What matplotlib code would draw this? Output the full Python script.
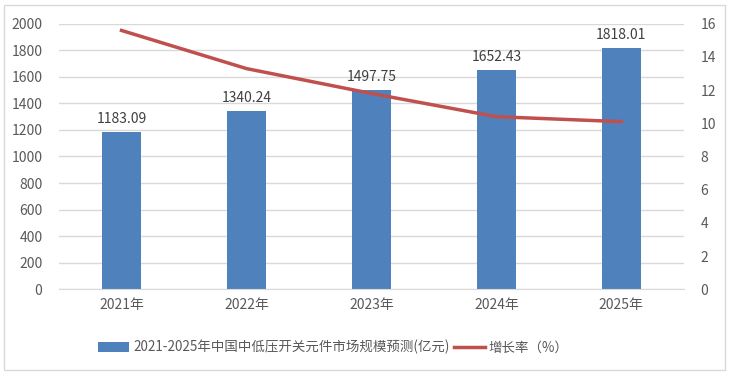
import matplotlib.pyplot as plt
import numpy as np
from matplotlib.patches import Rectangle

plt.rcParams['font.family'] = ['Noto Sans CJK SC', 'DejaVu Sans']

years = ['2021年', '2022年', '2023年', '2024年', '2025年']
market_size = [1183.09, 1340.24, 1497.75, 1652.43, 1818.01]
growth_rate = [15.6, 13.3, 11.8, 10.4, 10.1]

bar_color = '#4F81BD'
line_color = '#C0504D'
text_color = '#595959'

fig = plt.figure(figsize=(7.29, 3.78), dpi=100)
ax = fig.add_axes([0.081, 0.235, 0.857, 0.702])
ax2 = ax.twinx()

x = np.arange(len(years))
bars = ax.bar(x, market_size, width=0.31, color=bar_color, zorder=2,
              label='2021-2025年中国中低压开关元件市场规模预测(亿元)')
for xi, v in zip(x, market_size):
    ax.text(xi, v + 45, f'{v:.2f}', ha='center', va='bottom', fontsize=10, color='#404040')

line, = ax2.plot(x, growth_rate, color=line_color, linewidth=2.5, zorder=3, label='增长率（%）')

ax.set_xlim(-0.5, 4.5)
ax.set_ylim(0, 2000)
ax.set_yticks(np.arange(0, 2001, 200))
ax2.set_ylim(0, 16)
ax2.set_yticks(np.arange(0, 17, 2))
ax.set_xticks(x)
ax.set_xticklabels(years)
ax.grid(axis='y', color='#D9D9D9', linewidth=1, zorder=0)
ax.set_axisbelow(True)

for a in (ax, ax2):
    for s in a.spines.values():
        s.set_visible(False)
    a.tick_params(length=0, labelsize=10, colors=text_color)
ax.spines['bottom'].set_visible(True)
ax.spines['bottom'].set_color('#D9D9D9')
ax.tick_params(axis='y', pad=12)
ax.tick_params(axis='x', pad=6)
ax2.tick_params(axis='y', pad=12)

fig.legend(handles=[bars, line], loc='lower left', bbox_to_anchor=(0.118, 0.03),
           ncol=2, frameon=False, fontsize=9.7, handlelength=2.3, handletextpad=0.3,
           columnspacing=0.3, labelcolor=text_color)

fig.patches.append(Rectangle((0.006, 0.02), 0.988, 0.968, transform=fig.transFigure,
                             fill=False, edgecolor='#D9D9D9', linewidth=1))

fig.savefig('out.png', dpi=100)
